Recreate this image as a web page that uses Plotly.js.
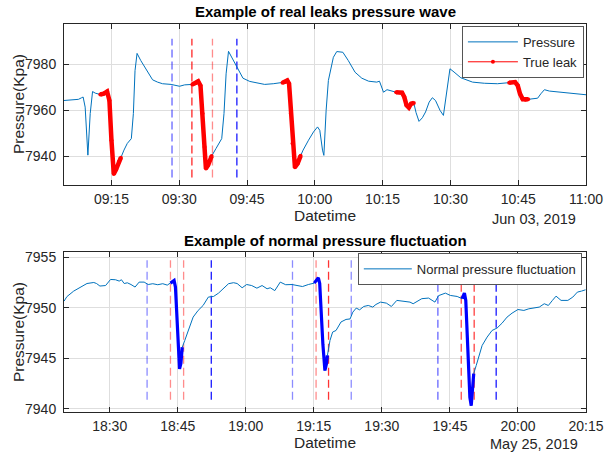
<!DOCTYPE html>
<html>
<head>
<meta charset="utf-8">
<script src="https://cdn.plot.ly/plotly-3.0.1.min.js"></script>
<style>html,body{margin:0;padding:0;background:#fff;}#chart{width:604px;height:455px;}</style>
</head>
<body>
<div id="chart"></div>
<script>
// ---------- DATA ----------
// Top panel: minutes after 09:00 on 2019-06-03
const leakDay = '2019-06-03';
const leakMinutes = [4.5,6.5,7.7,8.4,8.73,9.18,9.78,10.3,10.82,11.42,12.54,13.3,14.03,14.55,15.0,15.52,16.04,16.64,17.09,17.76,18.5,19.4,19.85,20.22,20.67,21.49,22.6,24.1,25.2,26.3,28.2,30.07,31.2,32.9,33.6,34.18,34.7,35.15,35.6,35.9,36.4,37.16,38.13,39.4,39.9,40.37,40.9,41.64,42.76,44.1,45.6,47.1,48.9,50.8,52.85,53.4,53.9,54.3,54.7,55.07,55.6,56.2,56.85,57.4,58.6,59.7,60.6,61.1,61.7,62.0,62.5,63.0,64.1,64.85,66.2,67.4,68.9,70.4,71.9,73.7,74.3,75.2,75.96,77.07,78.0,79.3,79.8,80.3,80.8,81.3,81.9,82.4,83.05,83.8,84.5,85.3,86.0,86.7,87.7,88.45,89.2,89.9,90.8,92.3,94.9,97.5,100.4,103.0,104.3,104.9,105.4,106.0,106.6,107.2,109.3,110.0,110.8,111.9,114.5,117.4,120];
const leakPressure = [7964.3,7964.6,7964.8,7965.5,7965.8,7961.4,7940.5,7958.6,7968.2,7967.5,7966.9,7967.3,7968.2,7964.3,7947.0,7932.3,7934.3,7937.6,7939.4,7942.7,7945.6,7947.7,7958.6,7977.3,7984.8,7981.7,7978,7973.3,7972.3,7971.6,7971.3,7970.5,7971.1,7971.3,7971.8,7972.7,7970.8,7958.6,7944.1,7934.7,7936.2,7940.1,7943.4,7947.7,7958.6,7975.9,7985.7,7983.1,7979.1,7974.0,7972.6,7972,7971.3,7971.6,7972,7972.3,7973,7971.6,7958.6,7945.6,7935.2,7936.9,7940.2,7942.7,7947,7950.6,7952.8,7951.3,7942.7,7940.4,7960,7973,7983.1,7985.6,7985.3,7981.7,7976.6,7974,7972.7,7972.3,7972.7,7967.9,7969,7968.4,7967.9,7967.7,7965.8,7962.2,7961.2,7962.9,7963.2,7959,7955.2,7956.8,7959.3,7963.6,7965.5,7964.3,7960,7957.8,7968.7,7978.1,7976.7,7974.2,7972.3,7971.8,7971.6,7972,7972.3,7970.8,7967.2,7964.8,7964.6,7964.8,7965.3,7967.2,7969,7968.4,7967.9,7967.2,7966.8];
// leak windows (start, end minutes after 09:00)
const leakWindows = [[12.5,17.1],[32.9,37.2],[52.8,56.9],[78.0,81.9],[103.0,107.2]];
// vertical marker times (minutes after 09:00)
const topMarkTimes = [28.4, 32.8, 37.35, 42.75];
const topMarkKinds = ['blue','red','red','blue'];
const topMarkRange = [7930.8, 7991.2];

// Bottom panel: minutes after 18:00 on 2019-05-25
const normDay = '2019-05-25';
const normMinutes = [19.95,20.57,22.06,23.54,25.0,26.5,27.1,27.85,29.1,30.2,31.3,32.1,32.6,33.2,33.9,34.7,35.6,36.5,37.6,38.5,39.5,40.6,41.7,42.7,43.4,44.2,44.5,44.8,45.1,45.4,45.7,46.0,46.55,47.3,48.4,49.5,50.6,51.75,52.9,54.0,55.1,56.2,57.3,58.1,59.2,60.2,61.3,62.45,63.6,64.7,65.4,66.4,67.6,68.8,70.2,71.4,72.5,73.8,75.1,76.0,76.3,76.6,77.0,77.45,77.8,78.0,78.56,79.15,79.9,81.0,82.1,83.0,83.6,84.35,85.1,86.0,87.0,88.0,88.7,89.7,91.0,92.1,93.3,94.8,96.2,96.9,97.7,98.8,100.3,101.7,102.5,104.0,105.1,106.6,107.7,108.2,108.5,108.8,109.1,109.4,109.7,110.0,110.25,110.8,111.4,112.1,113.2,114.3,115.4,116.5,117.6,118.7,120.0,121.3,122.4,123.5,124.7,125.8,126.7,127.6,128.4,129.5,131.0,132.1,133.1,134.0,134.9];
const normPressure = [7950.66,7951.1,7951.65,7952.05,7952.4,7952.5,7952.4,7952.15,7952.2,7952.8,7952.77,7952.64,7952.77,7952.4,7952.47,7952.3,7952.05,7952.54,7952.54,7952.3,7952.38,7952.28,7952.38,7952.24,7952.44,7952.7,7952.05,7949.1,7946.1,7943.96,7944.5,7946.1,7946.77,7947.76,7949.08,7949.74,7950.23,7951.06,7951.12,7951.45,7951.88,7952.38,7952.48,7952.4,7951.98,7952.3,7952.2,7951.94,7952.2,7951.88,7951.98,7951.7,7952.54,7952.28,7952.3,7952.2,7952.1,7952.3,7952.44,7952.97,7952.4,7949.74,7946.4,7943.8,7944.5,7945.3,7946.77,7947.6,7947.76,7948.6,7948.85,7948.9,7949.57,7949.97,7949.8,7950.13,7950.23,7950.07,7950.33,7950.56,7950.46,7950.13,7950.73,7950.66,7950.56,7950.4,7950.6,7950.9,7950.96,7950.56,7951.2,7951.45,7951.22,7951.12,7950.9,7951.45,7950.73,7947.4,7943.8,7941.15,7940.33,7941.8,7943.5,7944.3,7945.3,7946.27,7947.1,7947.76,7948.0,7948.48,7949.08,7949.47,7949.83,7949.74,7949.9,7950.0,7950.07,7950.4,7950.23,7950.73,7951.15,7950.73,7950.73,7951.06,7951.55,7951.65,7951.78];
const dropWindows = [[43.4,46.1],[75.1,78.0],[107.7,110.3]];
const botMarkTimes = [38.25,43.4,46.3,52.4,70.3,75.5,78.25,83.25,102.35,107.5,110.35,115.2];
const botMarkKinds = ['blue','red','red','blue','blue','red','red','blue','blue','red','red','blue'];
const botMarkRange = [7940.9, 7954.7];

// ---------- STYLES ----------
const topMarkAlpha = [0.6, 0.85, 0.45, 0.9];
const botMarkAlpha = [0.45, 0.45, 0.45, 0.9, 0.45, 0.45, 0.8, 0.45, 0.6, 0.7, 0.75, 0.9];

function pad(n){return (n<10?'0':'')+n;}
function toTime(day, baseHour, m){
  const s = Math.round(m*60);
  const h = baseHour + Math.floor(s/3600);
  const mi = Math.floor((s%3600)/60);
  const se = s%60;
  return day+' '+pad(h)+':'+pad(mi)+':'+pad(se);
}
function segments(mins, vals, windows){
  const xs=[], ys=[];
  windows.forEach((w,k)=>{
    if(k>0){xs.push(null);ys.push(null);}
    mins.forEach((m,i)=>{ if(m>=w[0]-1e-9 && m<=w[1]+1e-9){xs.push(m);ys.push(vals[i]);} });
  });
  return [xs, ys];
}

const lineBlue = 'rgb(0,114,189)';
const traces = [];

// top
const topX = leakMinutes.map(m=>toTime(leakDay,9,m));
topMarkTimes.forEach((t,i)=>{
  const c = topMarkKinds[i]==='blue' ? 'rgba(0,0,255,'+topMarkAlpha[i]+')' : 'rgba(255,0,0,'+topMarkAlpha[i]+')';
  traces.push({x:[toTime(leakDay,9,t),toTime(leakDay,9,t)], y:topMarkRange, mode:'lines', xaxis:'x', yaxis:'y',
    line:{color:c, width:1.3, dash:'8px,4px'}, showlegend:false, hoverinfo:'skip'});
});
traces.push({x:topX, y:leakPressure, mode:'lines', name:'Pressure', xaxis:'x', yaxis:'y',
  line:{color:lineBlue, width:1}, legend:'legend'});
const [lx, ly] = segments(leakMinutes, leakPressure, leakWindows);
const lxT = lx.map(m=> m===null?null:toTime(leakDay,9,m));
traces.push({x:lxT, y:ly, mode:'lines', xaxis:'x', yaxis:'y', showlegend:false,
  line:{color:'rgb(255,0,0)', width:4.5}, connectgaps:false, hoverinfo:'skip'});
traces.push({x:lxT, y:ly, mode:'lines+markers', name:'True leak', xaxis:'x', yaxis:'y',
  line:{color:'rgb(255,0,0)', width:1}, marker:{color:'rgb(255,0,0)', size:4}, connectgaps:false, legend:'legend'});

// bottom
const botX = normMinutes.map(m=>toTime(normDay,18,m));
botMarkTimes.forEach((t,i)=>{
  const c = botMarkKinds[i]==='blue' ? 'rgba(0,0,255,'+botMarkAlpha[i]+')' : 'rgba(255,0,0,'+botMarkAlpha[i]+')';
  traces.push({x:[toTime(normDay,18,t),toTime(normDay,18,t)], y:botMarkRange, mode:'lines', xaxis:'x2', yaxis:'y2',
    line:{color:c, width:1.3, dash:'8px,4px'}, showlegend:false, hoverinfo:'skip'});
});
traces.push({x:botX, y:normPressure, mode:'lines', name:'Normal pressure fluctuation', xaxis:'x2', yaxis:'y2',
  line:{color:lineBlue, width:1}, legend:'legend2'});
const [dx, dy] = segments(normMinutes, normPressure, dropWindows);
traces.push({x:dx.map(m=> m===null?null:toTime(normDay,18,m)), y:dy, mode:'lines', xaxis:'x2', yaxis:'y2', showlegend:false,
  line:{color:'rgb(0,0,255)', width:3.2}, connectgaps:false, hoverinfo:'skip'});

const FONT = 'Liberation Sans, Arial, Helvetica, sans-serif';
const axisCommon = {
  showline:true, linecolor:'#262626', linewidth:1, mirror:'ticks',
  ticks:'inside', ticklen:5, tickcolor:'#262626', tickwidth:1,
  showgrid:true, gridcolor:'#dedede', gridwidth:1, zeroline:false,
  tickfont:{family:FONT, size:14, color:'#262626'}
};
const xCommon = Object.assign({}, axisCommon, {type:'date', tickformat:'%H:%M', dtick:900000, ticklabelstandoff:1,
  title:{text:'Datetime', font:{family:FONT, size:15.5, color:'#262626'}, standoff:3}});
const yCommon = Object.assign({}, axisCommon, {ticklabelstandoff:4});

const layout = {
  width:604, height:455,
  margin:{l:64, r:18, t:24, b:43},
  paper_bgcolor:'#fff', plot_bgcolor:'#fff',
  font:{family:FONT, color:'#262626'},
  xaxis:Object.assign({}, xCommon, {domain:[0,1], anchor:'y', tick0:leakDay+' 09:00:00',
    range:[leakDay+' 09:04:30', leakDay+' 11:00:00']}),
  yaxis:Object.assign({}, yCommon, {domain:[0.585,1], anchor:'x', range:[7927.5,7997.6], tickvals:[7940,7960,7980]}),
  xaxis2:Object.assign({}, xCommon, {domain:[0,1], anchor:'y2', tick0:normDay+' 18:00:00',
    range:[normDay+' 18:19:56', normDay+' 20:15:00']}),
  yaxis2:Object.assign({}, yCommon, {domain:[0,0.412], anchor:'x2', range:[7939.7,7955.5], tickvals:[7940,7945,7950,7955]}),
  legend:{x:0.996, xanchor:'right', y:0.995, yanchor:'top', bgcolor:'#fff', bordercolor:'#555', borderwidth:1,
    font:{family:FONT, size:13, color:'#262626'}, tracegroupgap:0, itemwidth:50},
  legend2:{x:0.992, xanchor:'right', y:0.41, yanchor:'top', bgcolor:'#fff', bordercolor:'#555', borderwidth:1,
    font:{family:FONT, size:13, color:'#262626'}, itemwidth:48},
  showlegend:true,
  annotations:[
    {text:'<b>Example of real leaks pressure wave</b>', xref:'paper', yref:'paper', x:0.5, y:1.031, xanchor:'center', yanchor:'middle',
      showarrow:false, font:{family:FONT, size:15, color:'#000'}},
    {text:'<b>Example of normal pressure fluctuation</b>', xref:'paper', yref:'paper', x:0.5, y:0.443, xanchor:'center', yanchor:'middle',
      showarrow:false, font:{family:FONT, size:15, color:'#000'}},
    {text:'Pressure(Kpa)', xref:'paper', yref:'paper', x:(18-64)/522, y:(412-104)/388, xanchor:'center', yanchor:'middle', textangle:-90,
      showarrow:false, font:{family:FONT, size:15.5, color:'#262626'}},
    {text:'Pressure(Kpa)', xref:'paper', yref:'paper', x:(18-64)/522, y:(412-332)/388, xanchor:'center', yanchor:'middle', textangle:-90,
      showarrow:false, font:{family:FONT, size:15.5, color:'#262626'}},
    {text:'Jun 03, 2019', xref:'paper', yref:'paper', x:(534-64)/522, y:(412-219)/388, xanchor:'center', yanchor:'middle',
      showarrow:false, font:{family:FONT, size:14.5, color:'#262626'}},
    {text:'May 25, 2019', xref:'paper', yref:'paper', x:(534-64)/522, y:(412-444)/388, xanchor:'center', yanchor:'middle',
      showarrow:false, font:{family:FONT, size:14.5, color:'#262626'}}
  ]
};

Plotly.newPlot('chart', traces, layout, {staticPlot:true, displayModeBar:false});
</script>
</body>
</html>
